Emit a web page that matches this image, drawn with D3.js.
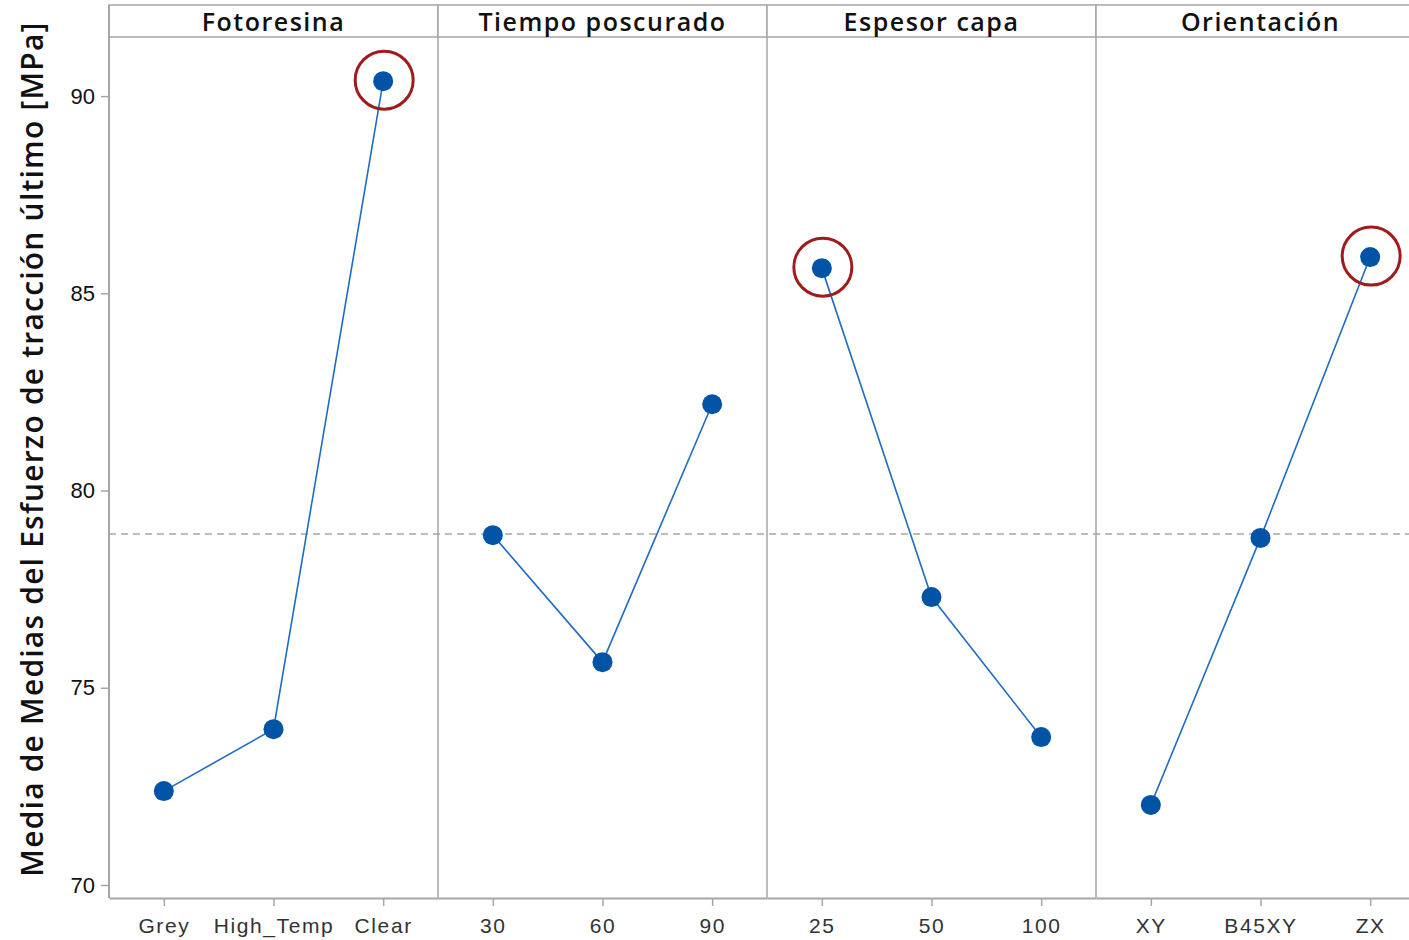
<!DOCTYPE html>
<html>
<head>
<meta charset="utf-8">
<script src="https://cdn.jsdelivr.net/npm/d3@7/dist/d3.min.js"></script>
<style>
  html, body { margin: 0; padding: 0; background: #fff; }
  svg { display: block; font-family: "Open Sans", "Noto Sans", sans-serif; }
</style>
</head>
<body>
<svg id="chart" width="1409" height="940"></svg>
<script>
// Factor names shown in the panel headers
const factors = ["Fotoresina", "Tiempo poscurado", "Espesor capa", "Orientación"];

// Levels of each factor
const levelsFotoresina = ["Grey", "High_Temp", "Clear"];
const levelsTiempo = ["30", "60", "90"];
const levelsEspesor = ["25", "50", "100"];
const levelsOrientacion = ["XY", "B45XY", "ZX"];

// Mean of means of ultimate tensile stress [MPa] for each level
const meansFotoresina = [72.38, 73.95, 90.38];
const meansTiempo = [78.87, 75.65, 82.19];
const meansEspesor = [85.64, 77.30, 73.75];
const meansOrientacion = [72.03, 78.80, 85.92];

// Overall mean (reference line)
const grandMean = 78.90;

// Y-axis ticks
const yTicks = [70, 75, 80, 85, 90];

// Levels highlighted with a ring (best level per factor)
const highlighted = ["Clear", "25", "ZX"];

const panels = [
  { name: factors[0], levels: levelsFotoresina, means: meansFotoresina },
  { name: factors[1], levels: levelsTiempo, means: meansTiempo },
  { name: factors[2], levels: levelsEspesor, means: meansEspesor },
  { name: factors[3], levels: levelsOrientacion, means: meansOrientacion }
];

const svg = d3.select("#chart");
const margin = { left: 109, top: 5, header: 32, bottom: 898 };
const panelW = 329;
const plotTop = margin.top + margin.header;
const plotBottom = margin.bottom;

const y = d3.scaleLinear().domain([69.67, 91.5]).range([plotBottom, plotTop]);

const axisColor = "#a6a6a6";
const lineColor = "#1f6cc4";
const markColor = "#0053a5";
const ringColor = "#a01b1b";

// Y axis
const yAxis = svg.append("g")
  .attr("transform", `translate(${margin.left},0)`)
  .call(d3.axisLeft(y).tickValues(yTicks).tickSize(8).tickPadding(6).tickFormat(d3.format("d")));
yAxis.select(".domain").remove();
yAxis.selectAll(".tick line").attr("stroke", axisColor).attr("stroke-width", 1.5);
yAxis.selectAll(".tick text").attr("fill", "#111").style("font-size", "22px");

// Y axis title
svg.append("text")
  .attr("transform", `translate(43,449) rotate(-90)`)
  .attr("text-anchor", "middle")
  .attr("fill", "#111")
  .style("font-size", "30px")
  .style("font-weight", "600")
  .style("letter-spacing", "1.2px")
  .text("Media de Medias del Esfuerzo de tracción último [MPa]");

// Grand-mean reference line
svg.append("line")
  .attr("x1", margin.left).attr("x2", 1409)
  .attr("y1", y(grandMean)).attr("y2", y(grandMean))
  .attr("stroke", "#a6a6a6").attr("stroke-width", 1.5)
  .attr("stroke-dasharray", "7,5");

panels.forEach((p, i) => {
  const x0 = margin.left + i * panelW;
  const x = d3.scalePoint().domain(p.levels).range([x0, x0 + panelW]).padding(0.5);
  const g = svg.append("g");

  // Header strip
  g.append("rect")
    .attr("x", x0).attr("y", margin.top)
    .attr("width", panelW).attr("height", margin.header)
    .attr("fill", "#fff").attr("stroke", axisColor).attr("stroke-width", 1.5);
  g.append("text")
    .attr("x", x0 + panelW / 2).attr("y", margin.top + 26)
    .attr("text-anchor", "middle").attr("fill", "#111")
    .style("font-size", "25px")
    .style("font-weight", "600")
    .style("letter-spacing", "1.5px")
    .text(p.name);

  // Panel frame (left side)
  g.append("line")
    .attr("x1", x0).attr("x2", x0)
    .attr("y1", plotTop).attr("y2", plotBottom)
    .attr("stroke", axisColor).attr("stroke-width", 1.5);

  // X axis
  const xAxis = g.append("g")
    .attr("transform", `translate(0,${plotBottom})`)
    .call(d3.axisBottom(x).tickSize(8).tickPadding(12).tickSizeOuter(0));
  xAxis.select(".domain").attr("stroke", axisColor).attr("stroke-width", 2);
  xAxis.selectAll(".tick line").attr("stroke", axisColor).attr("stroke-width", 1.5);
  xAxis.selectAll(".tick text").attr("fill", "#333")
    .style("font-size", "21px")
    .style("letter-spacing", "1.6px");

  const data = p.levels.map((l, j) => ({ level: l, value: p.means[j] }));

  g.append("path")
    .datum(data)
    .attr("fill", "none").attr("stroke", lineColor).attr("stroke-width", 1.6)
    .attr("d", d3.line().x(d => x(d.level)).y(d => y(d.value)));

  g.selectAll("circle.pt").data(data).enter().append("circle")
    .attr("class", "pt")
    .attr("cx", d => x(d.level)).attr("cy", d => y(d.value))
    .attr("r", 10).attr("fill", markColor);

  g.selectAll("circle.ring").data(data.filter(d => highlighted.includes(d.level))).enter()
    .append("circle")
    .attr("class", "ring")
    .attr("cx", d => x(d.level) + 1).attr("cy", d => y(d.value) - 1)
    .attr("r", 29).attr("fill", "none")
    .attr("stroke", ringColor).attr("stroke-width", 3);
});

// Left axis line drawn last over the frame
svg.append("line")
  .attr("x1", margin.left).attr("x2", margin.left)
  .attr("y1", margin.top).attr("y2", plotBottom)
  .attr("stroke", axisColor).attr("stroke-width", 2);
</script>
</body>
</html>
